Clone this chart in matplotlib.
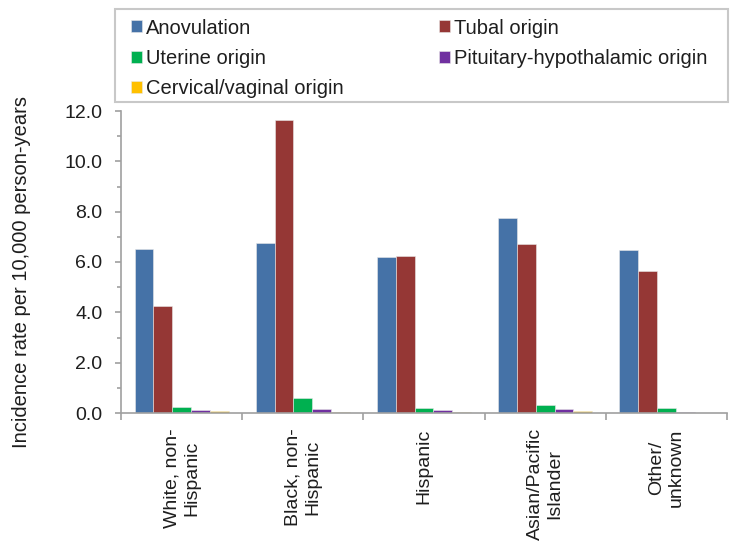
import matplotlib
matplotlib.use("Agg")
import matplotlib.pyplot as plt
import numpy as np
from matplotlib.ticker import MultipleLocator, FixedLocator
from matplotlib.patches import Rectangle

plt.rcParams['font.family'] = ['Liberation Sans', 'DejaVu Sans']

categories = ["White, non-\nHispanic", "Black, non-\nHispanic", "Hispanic",
              "Asian/Pacific\nIslander", "Other/\nunknown"]
series_names = ["Anovulation", "Tubal origin", "Uterine origin",
                "Pituitary-hypothalamic origin", "Cervical/vaginal origin"]
anovulation = [6.52, 6.77, 6.20, 7.75, 6.48]
tubal = [4.27, 11.63, 6.25, 6.72, 5.65]
uterine = [0.24, 0.58, 0.21, 0.32, 0.19]
pituitary = [0.11, 0.15, 0.12, 0.15, 0.04]
cervical = [0.07, 0.02, 0.04, 0.08, 0.01]
colors = ["#4572A7", "#953735", "#00B050", "#7030A0", "#FFC000"]
yticks = [0, 2, 4, 6, 8, 10, 12]

series = [anovulation, tubal, uterine, pituitary, cervical]
W, H = 742, 543
TXT = "#1E1E1E"
GRAY = "#A0A0A0"

fig = plt.figure(figsize=(W / 100, H / 100), dpi=100)
ax = fig.add_axes([121 / W, 1 - 413 / H, 606 / W, 302 / H])

x = np.arange(len(categories))
bw = 0.155
for i, (vals, c, name) in enumerate(zip(series, colors, series_names)):
    ax.bar(x + (i - 2) * bw, vals, width=bw, color=c, edgecolor="#E8E8E8",
           linewidth=0.4, label=name, zorder=2)

ax.set_xlim(-0.5, len(categories) - 0.5)
ax.set_ylim(0, 12)
ax.set_yticks(yticks)
ax.set_yticklabels([f"{v:.1f}" for v in yticks])
ax.yaxis.set_minor_locator(MultipleLocator(1))

ax.xaxis.set_major_locator(FixedLocator(np.arange(-0.5, len(categories), 1.0)))
ax.xaxis.set_major_formatter(plt.NullFormatter())
ax.set_xticks(x, minor=True)
ax.set_xticklabels(categories, minor=True, rotation=90, ha="center", va="top",
                   multialignment="center", fontsize=14, color=TXT)
ax.tick_params(axis="x", which="minor", length=0, pad=11)
ax.tick_params(axis="x", which="major", length=5, width=1.2, color=GRAY, direction="out")
ax.tick_params(axis="y", which="major", length=4.5, width=1.2, color=GRAY,
               labelsize=14, labelcolor=TXT, pad=9)
ax.tick_params(axis="y", which="minor", length=3, width=1.2, color=GRAY)

for s in ["top", "right"]:
    ax.spines[s].set_visible(False)
for s in ["left", "bottom"]:
    ax.spines[s].set_color(GRAY)
    ax.spines[s].set_linewidth(1.2)

ax.set_ylabel("Incidence rate per 10,000 person-years", fontsize=14.5, color=TXT)
ax.yaxis.set_label_coords(31 / W, 0.5, transform=fig.transFigure)

# legend frame
fig.patches.append(Rectangle((115 / W, 1 - 101.7 / H), 613 / W, 92.4 / H,
                             transform=fig.transFigure, fill=False,
                             edgecolor="#C8C8C8", linewidth=1.5))

handles, labels = ax.get_legend_handles_labels()
order = [0, 2, 4, 1, 3]
leg = fig.legend([handles[i] for i in order], [labels[i] for i in order],
                 loc="upper left", bbox_to_anchor=(131 / W, 1 - 18.5 / H),
                 ncol=2, fontsize=14.5, frameon=False,
                 handlelength=0.53, handleheight=0.53,
                 handletextpad=0.2, columnspacing=4.75, labelspacing=0.56,
                 borderpad=0, borderaxespad=0)
for t in leg.get_texts():
    t.set_color(TXT)

fig.savefig("out.png", dpi=100)
